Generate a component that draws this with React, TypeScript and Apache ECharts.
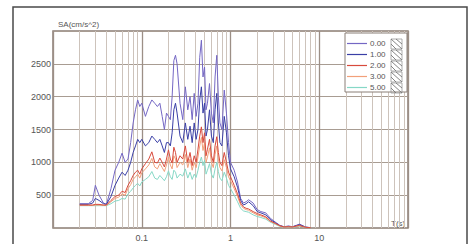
import React, { useEffect, useRef } from "react";
import * as echarts from "echarts";

// Periods T (s)
const periods = [
  0.02, 0.025, 0.028, 0.03, 0.033, 0.037, 0.04, 0.045, 0.05, 0.055,
  0.06, 0.065, 0.07, 0.075, 0.08, 0.085, 0.09, 0.095, 0.1, 0.11,
  0.12, 0.13, 0.14, 0.15, 0.16, 0.17, 0.18, 0.19, 0.2, 0.21,
  0.22, 0.23, 0.24, 0.25, 0.27, 0.29, 0.31, 0.33, 0.35, 0.37,
  0.39, 0.41, 0.43, 0.45, 0.47, 0.49, 0.51, 0.53, 0.55, 0.58,
  0.61, 0.64, 0.67, 0.7, 0.73, 0.76, 0.8, 0.85, 0.9, 0.95,
  1.0, 1.1, 1.2, 1.3, 1.4, 1.5, 1.6, 1.8, 2.0, 2.2,
  2.5, 2.8, 3.2, 3.6, 4.0, 4.5, 5.0, 5.5, 6.0, 7.0,
  8.0,
];

// SA (cm/s^2), damping 0.00
const sa000 = [
  370, 370, 420, 650, 500, 380, 360, 600, 880, 1000,
  1140, 1000, 1050, 1300, 1600, 1800, 1950, 1850, 1900, 1700,
  1850, 1950, 1900, 1850, 1900, 1700, 1500, 1750, 1700, 1650,
  2000, 2550, 2630, 2500, 1900, 1650, 2150, 1800, 2000, 1650,
  2050, 1700, 1900, 2600, 2860, 2300, 2450, 1800, 1900, 2200,
  1750, 1600, 2300, 2630, 2000, 1600, 1500, 2100, 1750, 1300,
  1000, 880, 700, 450, 380, 400, 430, 380, 280, 250,
  230, 150, 90, 40, 20, 30, 20, 40, 60, 15,
  5,
];

// damping 1.00
const sa100 = [
  360, 360, 380, 450, 420, 370, 360, 480, 650, 760,
  850, 800, 880, 1000, 1150, 1250, 1350, 1300, 1350, 1250,
  1300, 1400, 1350, 1300, 1350, 1250, 1150, 1300, 1300, 1250,
  1450, 1800, 1900, 1750, 1400, 1300, 1600, 1350, 1550, 1300,
  1600, 1350, 1500, 1950, 2150, 1750, 1900, 1400, 1500, 1800,
  1400, 1300, 1800, 2050, 1600, 1300, 1250, 1700, 1450, 1100,
  900, 780, 620, 420, 350, 370, 400, 340, 250, 230,
  200, 130, 80, 35, 18, 25, 18, 35, 50, 12,
  5,
];

// damping 2.00
const sa200 = [
  350, 350, 350, 360, 360, 350, 350, 420, 480, 500,
  560, 540, 650, 720, 800, 850, 880, 820, 900, 980,
  1050, 1160, 1000, 990, 1065, 1000, 930, 1050, 1190, 1050,
  990, 1230, 1150, 1000, 1100, 1050, 1250, 1000, 1150, 950,
  1100, 1000, 1200, 1400, 1540, 1300, 1450, 1100, 1200, 1350,
  1100, 1000, 1250, 1390, 1150, 1000, 950, 1150, 1000, 850,
  780, 650, 520, 380, 320, 300, 290, 250, 220, 200,
  170, 110, 70, 35, 15, 20, 15, 30, 40, 10,
  5,
];

// damping 3.00
const sa300 = [
  345, 345, 345, 350, 350, 345, 345, 400, 450, 470,
  520, 500, 600, 660, 740, 780, 820, 760, 840, 900,
  960, 1060, 930, 900, 980, 920, 860, 960, 1080, 960,
  900, 1100, 1050, 920, 1000, 960, 1120, 920, 1050, 880,
  1000, 920, 1080, 1250, 1380, 1180, 1300, 1000, 1080, 1220,
  1000, 920, 1120, 1250, 1050, 920, 870, 1040, 920, 780,
  720, 600, 480, 350, 300, 280, 270, 230, 200, 185,
  155, 100, 65, 30, 14, 18, 14, 26, 35, 9,
  4,
];

// damping 5.00
const sa500 = [
  340, 340, 340, 340, 340, 340, 340, 370, 410, 420,
  450, 440, 520, 560, 610, 650, 680, 640, 700, 740,
  780, 860, 760, 740, 800, 760, 720, 780, 870, 780,
  740, 880, 850, 760, 820, 790, 900, 760, 850, 740,
  820, 770, 880, 1000, 1080, 950, 1030, 820, 880, 980,
  820, 760, 900, 1000, 860, 760, 720, 850, 760, 650,
  600, 500, 400, 300, 260, 250, 240, 200, 175, 160,
  135, 90, 55, 25, 12, 15, 12, 22, 30, 8,
  3,
];

const legendNames = ["0.00", "1.00", "2.00", "3.00", "5.00"];
const lineColors = ["#7467c4", "#3a3fa6", "#d84a3c", "#f2a07a", "#86d8c6"];
const seriesZ = [2, 3, 6, 5, 4];
const yTickLabels = [500, 1000, 1500, 2000, 2500];
const xTickLabels = [0.1, 1, 10];
const decades = [0.01, 0.1, 1, 10];
const minorSteps = [2, 3, 4, 5, 6, 7, 8, 9];

export default function App() {
  const ref = useRef<HTMLDivElement>(null);

  useEffect(() => {
    if (!ref.current) return;
    const chart = echarts.init(ref.current, undefined, { renderer: "svg" });
    const values = [sa000, sa100, sa200, sa300, sa500];

    const minorLines: number[] = [];
    decades.forEach((d) => minorSteps.forEach((s) => minorLines.push(+(d * s).toPrecision(3))));

    const series: any[] = [
      {
        type: "line",
        name: "_grid",
        data: [],
        silent: true,
        z: 1,
        markLine: {
          silent: true,
          z: 1,
          symbol: ["none", "none"],
          label: { show: false },
          emphasis: { disabled: true },
          animation: false,
          lineStyle: { color: "#cdc3bb", width: 1, type: "solid" },
          data: minorLines.map((v) => ({ xAxis: v })),
        },
      },
    ];
    values.forEach((vals, i) => {
      series.push({
        name: legendNames[i],
        type: "line",
        data: periods.map((t, j) => [t, vals[j]]),
        symbol: "none",
        showSymbol: false,
        z: seriesZ[i],
        lineStyle: { width: 1, color: lineColors[i] },
        itemStyle: { color: lineColors[i] },
        emphasis: { disabled: true },
      });
    });

    const hatch: any[] = [];
    legendNames.forEach((_, i) => {
      const cy = 44 + 11 * i;
      const x0 = 391;
      hatch.push({
        type: "rect",
        z: 21,
        silent: true,
        shape: { x: x0, y: cy - 5, width: 11, height: 10 },
        style: { fill: "none", stroke: "#9a9a9a", lineWidth: 0.8 },
      });
      hatch.push({
        type: "line",
        z: 21,
        silent: true,
        shape: { x1: x0, y1: cy - 5, x2: x0 + 11, y2: cy + 5 },
        style: { stroke: "#777", lineWidth: 0.9 },
      });
      hatch.push({
        type: "line",
        z: 21,
        silent: true,
        shape: { x1: x0 + 5, y1: cy - 5, x2: x0 + 11, y2: cy },
        style: { stroke: "#777", lineWidth: 0.9 },
      });
      hatch.push({
        type: "line",
        z: 21,
        silent: true,
        shape: { x1: x0, y1: cy, x2: x0 + 5, y2: cy + 5 },
        style: { stroke: "#777", lineWidth: 0.9 },
      });
    });

    chart.setOption({
      animation: false,
      backgroundColor: "#ffffff",
      textStyle: { fontFamily: "Liberation Sans, Arial, sans-serif" },
      grid: {
        left: 53,
        right: 67,
        top: 31,
        bottom: 16,
        show: true,
        borderColor: "#8a7e76",
        borderWidth: 1.5,
        backgroundColor: "transparent",
      },
      xAxis: {
        type: "log",
        logBase: 10,
        min: 0.01,
        max: 100,
        name: "T(s)",
        nameLocation: "end",
        nameGap: -17,
        nameTextStyle: { align: "left", verticalAlign: "bottom", fontSize: 8, color: "#555", padding: [0, 0, 1, 0] },
        axisLine: { show: false },
        axisTick: { show: false },
        axisLabel: {
          fontSize: 9,
          color: "#555",
          margin: 5,
          formatter: (v: number) => {
            const hit = xTickLabels.find((t) => Math.abs(Math.log10(v) - Math.log10(t)) < 1e-6);
            return hit !== undefined ? String(hit) : "";
          },
        },
        splitLine: { show: true, lineStyle: { color: "#9c8f86", width: 1.3 } },
      },
      yAxis: {
        type: "value",
        min: 0,
        max: 3000,
        interval: 500,
        name: "SA(cm/s^2)",
        nameLocation: "end",
        nameGap: 3,
        nameTextStyle: { align: "left", verticalAlign: "bottom", fontSize: 8, color: "#555", padding: [0, 0, 0, 5] },
        axisLine: { show: false },
        axisTick: { show: false },
        axisLabel: {
          fontSize: 9,
          color: "#555",
          margin: 2,
          padding: [8, 0, 0, 0],
          formatter: (v: number) => (yTickLabels.includes(v) ? String(v) : ""),
        },
        splitLine: { show: true, lineStyle: { color: "#a89c92", width: 1.1 } },
      },
      legend: {
        data: legendNames,
        orient: "vertical",
        left: 347,
        top: 39,
        z: 20,
        icon: "rect",
        itemWidth: 20,
        itemHeight: 1.2,
        itemGap: 2,
        padding: 0,
        selectedMode: false,
        textStyle: { fontSize: 8, lineHeight: 9, color: "#555", padding: [0, 0, 0, -2] },
      },
      graphic: [
        {
          type: "rect",
          z: 0,
          silent: true,
          shape: { x: 13, y: 7, width: 454, height: 262 },
          style: { fill: "none", stroke: "#4a4a4a", lineWidth: 1.5 },
        },
        {
          type: "rect",
          z: 10,
          silent: true,
          shape: { x: 345, y: 33, width: 62, height: 59 },
          style: { fill: "#ffffff", stroke: "#8a7e76", lineWidth: 1 },
        },
        ...hatch,
      ],
      series,
    });

    return () => chart.dispose();
  }, []);

  return (
    <div
      ref={ref}
      style={{ position: "fixed", left: 0, top: 0, width: 475, height: 244 }}
    />
  );
}
